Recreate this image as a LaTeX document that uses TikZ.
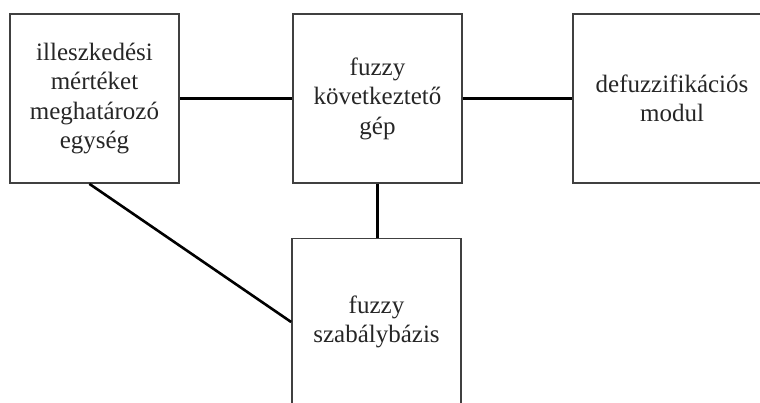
\documentclass[tikz,border=0pt]{standalone}
\usepackage{fontspec}
\setmainfont{Liberation Serif}
\usetikzlibrary{calc}
\begin{document}
\begin{tikzpicture}[x=1pt,y=-1pt,
  blockbox/.style={draw=black!75,line width=1.7pt,rectangle,inner sep=0pt,
    align=center,font=\fontsize{25}{29.5}\selectfont,text=black!85},
  link/.style={draw=black,line width=2.6pt}]
\useasboundingbox (0,0) rectangle (760,403);
\clip (0,0) rectangle (760,403);
\node[blockbox,minimum width=169pt,minimum height=169pt] (L) at (94.5,98.5)
  {illeszkedési\\mértéket\\meghatározó\\egység};
\node[blockbox,minimum width=169pt,minimum height=169pt] (M) at (377.5,98.5)
  {fuzzy\\következtető\\gép};
\node[blockbox,minimum width=198pt,minimum height=169pt] (R) at (672,98.5)
  {defuzzifikációs\\modul};
\node[blockbox,minimum width=169pt,minimum height=167pt] (B) at (376.5,322)
  {fuzzy\\szabálybázis};
\draw[link] (L.east) -- (M.west);
\draw[link] (M.east) -- (R.west);
\draw[link] (M.south) -- (M.south |- B.north);
\draw[link] ($(L.south west)!0.47!(L.south east)$) -- (B.west);
\end{tikzpicture}
\end{document}
